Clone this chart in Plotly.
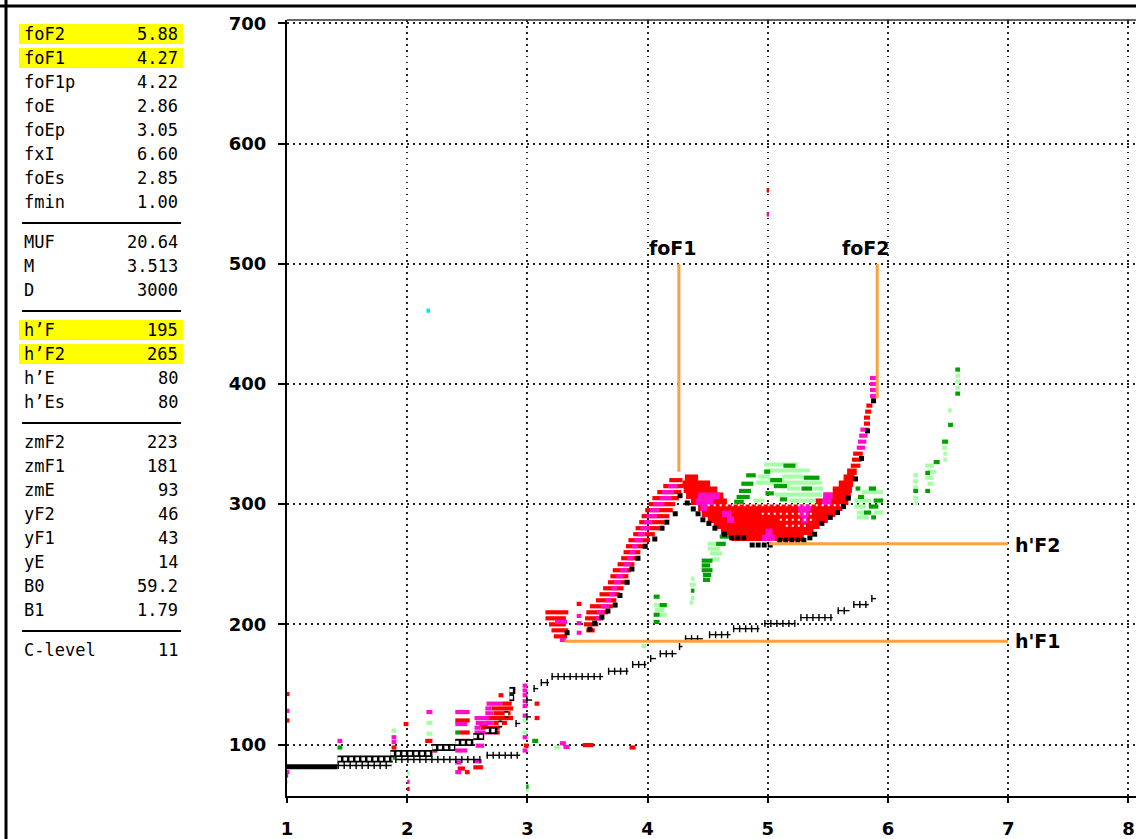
import plotly.graph_objects as go

# ------------------------------------------------------------------ data
# left-hand parameter table
PARAM_NAMES = ["foF2", "foF1", "foF1p", "foE", "foEp", "fxI", "foEs", "fmin",
               "MUF", "M", "D",
               "h’F", "h’F2", "h’E", "h’Es",
               "zmF2", "zmF1", "zmE", "yF2", "yF1", "yE", "B0", "B1",
               "C-level"]
PARAM_VALUES = ["5.88", "4.27", "4.22", "2.86", "3.05", "6.60", "2.85", "1.00",
                "20.64", "3.513", "3000",
                "195", "265", "80", "80",
                "223", "181", "93", "46", "43", "14", "59.2", "1.79",
                "11"]
PARAM_GROUP = [0] * 8 + [1] * 3 + [2] * 4 + [3] * 8 + [4]
PARAM_HIGHLIGHT = ["foF2", "foF1", "h’F", "h’F2"]

X_TICKS = [1, 2, 3, 4, 5, 6, 7, 8]
Y_TICKS = [100, 200, 300, 400, 500, 600, 700]

# echo rows: (virtual height km, start freq MHz, end freq MHz)
RED_THIN = [
    (195, 3.49, 3.56), (200, 3.47, 3.59), (205, 3.48, 3.63), (210, 3.49, 3.67),
    (215, 3.52, 3.71), (220, 3.57, 3.74), (225, 3.60, 3.77), (230, 3.63, 3.80),
    (235, 3.67, 3.82), (240, 3.69, 3.84), (245, 3.71, 3.86), (250, 3.75, 3.89),
    (255, 3.78, 3.91), (260, 3.80, 3.94), (265, 3.82, 3.97), (270, 3.84, 4.02),
    (275, 3.88, 4.06), (280, 3.90, 4.10), (285, 3.93, 4.14), (290, 3.95, 4.18),
    (295, 3.98, 4.21), (300, 4.01, 4.23), (305, 4.04, 4.26), (310, 4.08, 4.28),
    (315, 4.13, 4.30), (320, 4.18, 4.29),
    (190, 3.22, 3.33), (195, 3.20, 3.34), (200, 3.18, 3.32), (205, 3.15, 3.32),
    (210, 3.15, 3.34), (217, 3.41, 3.45),
    (332, 5.69, 5.77), (337, 5.70, 5.78), (342, 5.71, 5.79), (367, 5.80, 5.85),
    (372, 5.80, 5.85), (377, 5.81, 5.86), (382, 5.82, 5.87),
    (142, 1.00, 1.02), (120, 1.00, 1.02), (117, 1.97, 2.01), (97.5, 1.87, 1.91),
    (103, 2.15, 2.21), (95, 2.21, 2.25),
    (120, 2.40, 2.52), (110, 2.44, 2.52), (103, 2.40, 2.52), (80, 2.42, 2.48),
    (77, 2.48, 2.52), (117, 2.60, 2.67), (106, 2.57, 2.64), (81, 2.55, 2.63),
    (141, 2.76, 2.80), (134, 2.79, 2.87), (130, 2.70, 2.88), (126, 2.72, 2.86),
    (122, 2.66, 2.88), (118, 2.72, 2.83), (114, 2.61, 2.77), (110, 2.72, 2.77),
    (99, 2.97, 3.01), (134, 3.06, 3.10), (122, 3.06, 3.10),
    (99.5, 3.46, 3.55), (97.5, 3.85, 3.90), (63, 2.00, 2.02), (561, 4.99, 5.01),
]
RED_THICK = [
    (322, 4.31, 4.42), (317, 4.29, 4.52), (312, 4.30, 4.58), (307, 4.32, 4.63),
    (302, 4.36, 4.66), (297, 4.42, 5.62), (292, 4.45, 5.56), (287, 4.50, 5.50),
    (282, 4.55, 5.43), (277, 4.61, 5.38), (272, 4.70, 5.30),
    (302, 5.40, 5.67), (307, 5.47, 5.69), (312, 5.54, 5.70), (317, 5.59, 5.71),
    (322, 5.63, 5.72), (327, 5.66, 5.74),
]
MAGENTA_THIN = [
    (205, 3.57, 3.61), (210, 3.58, 3.64), (215, 3.61, 3.68), (220, 3.65, 3.70),
    (225, 3.68, 3.73), (230, 3.70, 3.75), (235, 3.72, 3.78), (240, 3.74, 3.80),
    (245, 3.77, 3.83), (250, 3.80, 3.86), (255, 3.83, 3.88), (260, 3.85, 3.90),
    (265, 3.87, 3.92), (270, 3.89, 3.96), (275, 3.92, 3.98), (280, 3.94, 4.02),
    (285, 3.97, 4.04), (290, 3.99, 4.08), (295, 4.02, 4.10), (300, 4.05, 4.14),
    (305, 4.10, 4.20), (310, 4.12, 4.22), (315, 4.17, 4.25),
    (207, 3.41, 3.45), (201, 3.41, 3.45), (193, 3.41, 3.45), (202, 3.23, 3.33),
    (187, 3.27, 3.32),
    (347, 5.74, 5.81), (352, 5.75, 5.82), (357, 5.76, 5.83), (362, 5.77, 5.84),
    (390, 5.85, 5.91), (395, 5.85, 5.91), (400, 5.85, 5.91), (405, 5.85, 5.90),
    (128, 1.00, 1.02), (77, 1.00, 1.02), (103, 1.42, 1.46), (106, 1.87, 1.91),
    (102, 1.87, 1.91), (127, 2.16, 2.21),
    (127, 2.40, 2.52), (117, 2.40, 2.50), (95, 2.40, 2.50), (85, 2.40, 2.45),
    (77, 2.40, 2.45), (122, 2.56, 2.68), (110, 2.56, 2.72), (99, 2.57, 2.64),
    (86, 2.55, 2.62), (134, 2.66, 2.79), (130, 2.65, 2.70), (126, 2.65, 2.72),
    (118, 2.57, 2.72), (114, 2.56, 2.61),
    (149, 2.96, 3.00), (145, 2.96, 3.00), (141, 2.96, 3.00), (136, 2.96, 3.00),
    (132, 2.96, 3.00), (124, 2.96, 3.00), (106, 2.96, 3.00), (95, 2.96, 3.00),
    (101, 3.27, 3.32), (98, 3.30, 3.35), (69, 2.00, 2.02), (541, 4.99, 5.01),
]
MAGENTA_THICK = [
    (307, 4.42, 4.60), (302, 4.40, 4.55), (297, 4.44, 4.50), (297, 5.25, 5.36),
    (292, 5.26, 5.34), (287, 5.28, 5.33), (277, 4.98, 5.04), (272, 4.95, 5.06),
    (302, 5.45, 5.53), (307, 5.46, 5.54), (292, 4.62, 4.70), (287, 4.66, 4.72),
]
WHITE_DOTS = [
    (299, 4.50, 5.62), (292, 4.95, 5.40), (287, 5.10, 5.40), (282, 5.15, 5.35),
]
DKGREEN_THIN = [
    (110, 2.40, 2.44), (89, 1.87, 1.91), (97.5, 1.42, 1.46), (103, 3.04, 3.09),
    (74, 1.00, 1.01), (65, 2.99, 3.01),
    (223, 4.05, 4.10), (216, 4.10, 4.16), (208, 4.05, 4.10), (202, 4.05, 4.10),
    (228, 4.36, 4.39),
    (253, 4.45, 4.54), (249, 4.45, 4.52), (245, 4.45, 4.54), (241, 4.46, 4.53),
    (237, 4.46, 4.52), (267, 4.57, 4.65), (273, 4.60, 4.69),
    (332, 5.13, 5.23), (327, 4.97, 5.02), (324, 4.82, 4.90), (322, 5.30, 5.43),
    (320, 5.02, 5.12), (317, 4.78, 4.88), (315, 5.05, 5.16), (313, 5.28, 5.37),
    (311, 4.76, 4.86), (309, 4.98, 5.05), (306, 4.74, 4.85), (304, 5.10, 5.16),
    (302, 4.72, 4.80),
    (313, 5.73, 5.77), (313, 5.84, 5.90), (306, 5.75, 5.80), (303, 5.88, 5.96),
    (298, 5.84, 5.92), (293, 5.80, 5.86), (289, 5.86, 5.90),
    (311, 6.21, 6.25), (326, 6.31, 6.35), (311, 6.31, 6.35), (335, 6.38, 6.43),
    (352, 6.45, 6.50), (366, 6.50, 6.54), (412, 6.56, 6.60), (392, 6.56, 6.60),
]
LTGREEN_THIN = [
    (111.6, 1.87, 1.91), (118, 2.16, 2.21), (109, 2.16, 2.21), (120, 2.96, 3.00),
    (110, 2.96, 3.00), (97.5, 3.22, 3.27), (76, 2.00, 2.02), (182, 3.95, 3.99),
    (69, 1.00, 1.01), (62, 2.99, 3.01),
    (216, 4.05, 4.10), (212, 4.06, 4.14), (208, 4.10, 4.16), (238, 4.36, 4.39),
    (233, 4.35, 4.40), (222, 4.36, 4.39), (218, 4.35, 4.38),
    (267, 4.50, 4.57), (263, 4.50, 4.60), (259, 4.52, 4.62), (254, 4.53, 4.60),
    (333, 4.97, 5.25), (328, 4.97, 5.35), (323, 4.92, 5.02), (323, 5.12, 5.30),
    (318, 4.90, 5.45), (313, 5.16, 5.27), (313, 5.38, 5.46), (308, 5.06, 5.45),
    (303, 5.18, 5.42), (303, 4.88, 4.97),
    (310, 5.78, 5.96), (303, 5.72, 5.86), (298, 5.72, 5.82), (293, 5.74, 5.80),
    (293, 5.88, 5.96), (289, 5.74, 5.84),
    (324, 6.21, 6.25), (319, 6.21, 6.25), (314, 6.21, 6.25), (305, 6.21, 6.25),
    (301, 6.22, 6.25), (332, 6.31, 6.38), (327, 6.33, 6.40), (322, 6.31, 6.38),
    (317, 6.33, 6.38), (347, 6.45, 6.49), (342, 6.46, 6.49), (337, 6.46, 6.49),
    (378, 6.50, 6.53), (407, 6.56, 6.60), (402, 6.56, 6.60), (397, 6.56, 6.60),
]
CYAN_THIN = [(461, 2.16, 2.19)]

# leading-edge (black) echo marks
EDGE_F = [3.33, 3.52, 3.56, 3.62, 3.67, 3.73, 3.77, 3.83, 3.87, 3.92, 3.98, 4.06,
          4.12, 4.16, 4.23, 4.27, 4.33, 4.38, 4.42, 4.46, 4.51, 4.56, 4.64,
          4.70, 4.75, 4.80, 4.87, 4.92, 4.97, 5.02, 5.10, 5.15, 5.20, 5.25,
          5.30, 5.35, 5.39, 5.45, 5.52, 5.58, 5.63, 5.67, 5.73, 5.78, 5.83, 5.88]
EDGE_H = [193, 196, 201, 206, 211, 216, 224, 235, 246, 255, 265, 271,
          280, 285, 292, 307, 301, 296, 292, 287, 284, 280, 275,
          272, 272, 272, 266, 266, 266, 266, 270, 270, 270, 270,
          270, 272, 275, 284, 289, 293, 298, 305, 321, 338, 361, 386]

# black "+" trace runs and boxed E trace runs: (height, f start, f end)
PLUS_RUNS = [
    (82.5, 1.42, 1.87), (87.5, 1.90, 2.61), (91, 2.66, 2.94), (117.5, 2.90, 2.94),
    (123, 2.99, 3.03), (137, 2.99, 3.04), (146.5, 3.05, 3.09), (151.5, 3.11, 3.18),
    (156.5, 3.20, 3.63), (161, 3.67, 3.84), (166.5, 3.87, 3.99), (171.5, 4.02, 4.07),
    (175.6, 4.10, 4.24), (181.5, 4.26, 4.29), (188, 4.31, 4.46), (191.4, 4.51, 4.69),
    (196.4, 4.71, 4.93), (200.6, 4.97, 5.23), (205.6, 5.27, 5.54), (211.4, 5.58, 5.68),
    (216.4, 5.71, 5.84), (221.4, 5.86, 5.90),
]
BOX_RUNS = [
    (88, 1.42, 1.88), (92.5, 1.86, 2.21), (97.5, 2.21, 2.40), (101.7, 2.40, 2.55),
    (106.6, 2.55, 2.64), (111.6, 2.65, 2.75), (117, 2.76, 2.79), (125, 2.81, 2.84),
    (139, 2.85, 2.89), (145, 2.85, 2.90),
]
E_BAR = [(81.5, 1.00, 1.42)]

# scaled parameter markers (orange)
FOF1_F, FOF1_H = [4.26, 4.26], [500, 327]
FOF2_F, FOF2_H = [5.91, 5.91], [500, 388]
HF2_F, HF2_H = [5.01, 7.0], [267, 267]
HF1_F, HF1_H = [3.31, 7.0], [186, 186]
MARK_LABELS = ["foF1", "foF2", "h'F2", "h'F1"]
MARK_LABEL_F = [4.21, 5.82, 7.04, 7.04]
MARK_LABEL_H = [513, 513, 266, 186]

# ------------------------------------------------------------------ layout
W, H = 1136, 839
ML, MR, MT, MB = 287, 0, 20, 43
PW, PH = W - ML - MR, H - MT - MB
PX_PER_MHZ = 120.2
PX_PER_KM = 1.2017


def px_x(px):
    return (px - ML) / PW


def px_y(py):
    return (H - MB - py) / PH


RED, MAG, DKG, LTG = "#ff0000", "#ff10c8", "#00a000", "#a6ffa6"
ORANGE, BLACK = "#ffa040", "#000000"
THIN, THICK = 4.2, 6.5

fig = go.Figure()


def add_rows(rows, color, width, dash="solid"):
    xs, ys = [], []
    for h, f0, f1 in rows:
        xs += [f0, f1, None]
        ys += [h, h, None]
    fig.add_trace(go.Scatter(x=xs, y=ys, mode="lines",
                             line=dict(color=color, width=width, dash=dash),
                             hoverinfo="skip", showlegend=False))


add_rows(LTGREEN_THIN, LTG, THIN)
add_rows(DKGREEN_THIN, DKG, THIN)
add_rows(RED_THICK, RED, THICK)
add_rows(RED_THIN, RED, THIN)
add_rows(MAGENTA_THICK, MAG, THICK)
add_rows(MAGENTA_THIN, MAG, THIN)
add_rows(CYAN_THIN, "#00e8ff", THIN)
add_rows(WHITE_DOTS, "white", 2, "2px,4px")

# black traces
add_rows(E_BAR, BLACK, 5)
add_rows(BOX_RUNS, BLACK, 7)
add_rows(BOX_RUNS, "white", 3.5, "3.5px,2.5px")
add_rows(PLUS_RUNS, BLACK, 1.4)
add_rows(PLUS_RUNS, BLACK, 7, "1.4px,4.6px")
fig.add_trace(go.Scatter(x=EDGE_F, y=EDGE_H, mode="markers",
                         marker=dict(symbol="square", size=5, color=BLACK,
                                     line=dict(width=0)),
                         hoverinfo="skip", showlegend=False))

# orange scaling lines
for fx, hy in [(FOF1_F, FOF1_H), (FOF2_F, FOF2_H), (HF2_F, HF2_H), (HF1_F, HF1_H)]:
    fig.add_trace(go.Scatter(x=fx, y=hy, mode="lines",
                             line=dict(color=ORANGE, width=3),
                             hoverinfo="skip", showlegend=False))

annotations = []
for lab, fx, hy in zip(MARK_LABELS, MARK_LABEL_F, MARK_LABEL_H):
    left = lab.startswith("h")
    annotations.append(dict(
        x=fx, y=hy, xref="x", yref="y", text=lab, showarrow=False,
        xanchor="left" if left else "center", yanchor="middle",
        font=dict(family="DejaVu Sans", size=19, color=BLACK, weight="bold")))

# parameter table
shapes = []
ROW0, ROWSTEP, GROUPGAP = 34, 24, 16
last_in_group = {}
for i, (name, val, g) in enumerate(zip(PARAM_NAMES, PARAM_VALUES, PARAM_GROUP)):
    yc = ROW0 + ROWSTEP * i + GROUPGAP * g
    last_in_group[g] = yc
    if name in PARAM_HIGHLIGHT:
        shapes.append(dict(type="rect", xref="paper", yref="paper",
                           x0=px_x(19), x1=px_x(183), y0=px_y(yc + 10), y1=px_y(yc - 10),
                           fillcolor="#ffff00", line=dict(width=0), layer="below"))
    annotations.append(dict(x=px_x(22), y=px_y(yc), xref="paper", yref="paper",
                            text=name, showarrow=False, xanchor="left", yanchor="middle",
                            font=dict(family="DejaVu Sans Mono", size=17, color=BLACK)))
    annotations.append(dict(x=px_x(180), y=px_y(yc), xref="paper", yref="paper",
                            text=val, showarrow=False, xanchor="right", yanchor="middle",
                            font=dict(family="DejaVu Sans Mono", size=17, color=BLACK)))
for g in range(4):
    ys = last_in_group[g] + 21
    shapes.append(dict(type="line", xref="paper", yref="paper",
                       x0=px_x(22), x1=px_x(181), y0=px_y(ys), y1=px_y(ys),
                       line=dict(color=BLACK, width=2)))

# outer frame (top and left) and plot top border
shapes.append(dict(type="line", xref="paper", yref="paper", x0=px_x(0), x1=px_x(W),
                   y0=px_y(6), y1=px_y(6), line=dict(color=BLACK, width=3)))
shapes.append(dict(type="line", xref="paper", yref="paper", x0=px_x(6), x1=px_x(6),
                   y0=px_y(0), y1=px_y(H), line=dict(color=BLACK, width=3)))
shapes.append(dict(type="line", xref="paper", yref="paper", x0=0, x1=1,
                   y0=1, y1=1, line=dict(color="#333333", width=1.5)))

x_max = 1 + PW / PX_PER_MHZ
y_min = 100 - (H - MB - 744.5) / PX_PER_KM
y_max = 100 + (744.5 - MT) / PX_PER_KM

fig.update_layout(
    width=W, height=H,
    margin=dict(l=ML, r=MR, t=MT, b=MB, pad=0),
    paper_bgcolor="white", plot_bgcolor="white",
    showlegend=False,
    shapes=shapes, annotations=annotations,
    xaxis=dict(range=[1, x_max], tickvals=X_TICKS, ticktext=[str(v) for v in X_TICKS],
               showgrid=True, gridcolor="#222222", gridwidth=1.5, griddash="1.5px,4.5px",
               zeroline=False, showline=True, linecolor=BLACK, linewidth=2,
               ticks="outside", ticklen=5, tickwidth=2, tickcolor=BLACK,
               ticklabelstandoff=10,
               tickfont=dict(family="DejaVu Sans", size=18, color=BLACK, weight="bold")),
    yaxis=dict(range=[y_min, y_max], tickvals=Y_TICKS, ticktext=[str(v) for v in Y_TICKS],
               showgrid=True, gridcolor="#222222", gridwidth=1.5, griddash="1.5px,4.5px",
               zeroline=False, showline=True, linecolor=BLACK, linewidth=2,
               ticks="outside", ticklen=7, tickwidth=2, tickcolor=BLACK,
               ticklabelstandoff=8,
               tickfont=dict(family="DejaVu Sans", size=18, color=BLACK, weight="bold")),
)

fig.write_html("out.html")
